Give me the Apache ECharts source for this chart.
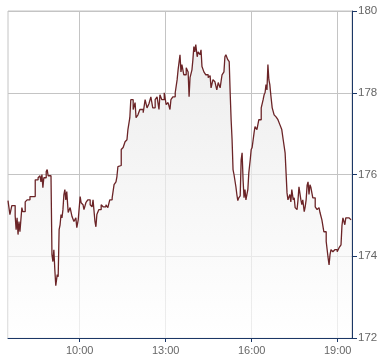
<!DOCTYPE html>
<html>
<head>
<meta charset="utf-8">
<script src="https://cdn.jsdelivr.net/npm/echarts@6/dist/echarts.min.js"></script>
<style>
html,body{margin:0;padding:0;background:#fff;}
#chart{width:390px;height:364px;}
</style>
</head>
<body>
<div id="chart"></div>
<script>
const times = ["7:30","7:34","7:38","7:45","7:47","7:49","7:51","7:53","7:55","7:59",
"8:01","8:06","8:10","8:16","8:27","8:33","8:37","8:39","8:41","8:43",
"8:45","8:50","8:52","8:54","9:00","9:02","9:04","9:06","9:08","9:10",
"9:13","9:15","9:17","9:19","9:21","9:23","9:25","9:27","9:29","9:31",
"9:33","9:36","9:40","9:44","9:48","9:52","9:54","9:57","10:01","10:03",
"10:07","10:09","10:13","10:17","10:22","10:26","10:28","10:32","10:34","10:36",
"10:40","10:45","10:49","10:55","10:59","11:03","11:08","11:12","11:16","11:18",
"11:20","11:24","11:27","11:31","11:35","11:39","11:41","11:45","11:47","11:52",
"11:56","11:58","12:02","12:06","12:13","12:17","12:21","12:25","12:29","12:33",
"12:38","12:42","12:46","12:48","12:52","12:57","13:01","13:05","13:09","13:11",
"13:15","13:20","13:24","13:26","13:30","13:32","13:34","13:38","13:43","13:47",
"13:49","13:51","13:55","13:57","13:59","14:01","14:03","14:06","14:08","14:12",
"14:14","14:16","14:20","14:24","14:29","14:33","14:35","14:39","14:43","14:47",
"14:50","14:54","14:58","15:02","15:04","15:06","15:10","15:13","15:15","15:17",
"15:19","15:21","15:23","15:27","15:29","15:31","15:33","15:36","15:38","15:40",
"15:42","15:44","15:46","15:48","15:50","15:52","15:54","15:57","15:59","16:01",
"16:05","16:07","16:11","16:15","16:20","16:24","16:26","16:28","16:30","16:32",
"16:34","16:36","16:38","16:40","16:43","16:47","16:51","16:55","16:59","17:03",
"17:06","17:10","17:12","17:14","17:16","17:20","17:22","17:24","17:27","17:29",
"17:31","17:35","17:37","17:39","17:43","17:45","17:47","17:50","17:52","17:54",
"17:56","17:58","18:00","18:02","18:04","18:06","18:08","18:13","18:17","18:21",
"18:23","18:27","18:31","18:36","18:38","18:40","18:42","18:44","18:46","18:50",
"18:54","18:59","19:03","19:07","19:09","19:11","19:15","19:17","19:24","19:28"];

const prices = [175.36,175.02,175.24,174.99,174.65,174.94,174.53,174.85,174.60,175.19,
175.09,175.33,175.38,175.46,175.87,175.92,175.97,175.82,176.00,175.68,
175.92,176.07,176.12,175.97,175.97,174.04,173.87,174.16,173.67,173.28,
173.55,173.50,174.65,174.77,175.02,174.94,175.14,175.51,175.63,175.38,
175.58,175.07,175.19,174.97,174.85,174.94,174.70,174.89,175.46,175.31,
175.26,175.14,175.31,175.38,175.26,175.21,175.38,174.85,174.72,175.02,
175.14,175.26,175.21,175.26,175.19,175.38,175.43,175.75,175.82,175.95,
176.19,176.22,176.61,176.66,176.80,176.85,177.10,177.39,177.83,177.59,
177.76,177.39,177.46,177.59,177.51,177.83,177.63,177.73,177.90,177.63,
177.83,177.90,177.59,177.95,177.83,178.00,177.71,177.76,177.59,177.83,
177.90,178.00,178.32,178.56,178.93,178.51,178.69,178.44,178.61,178.51,
177.90,178.37,178.56,178.81,179.13,179.00,179.18,178.88,179.00,178.93,
179.05,178.64,178.51,178.44,178.37,178.42,178.12,178.32,178.27,178.07,
178.25,178.12,178.44,178.51,178.88,178.93,178.81,178.76,178.00,177.34,
176.85,176.12,176.00,175.70,175.51,175.36,175.43,175.48,176.36,176.53,
175.87,175.43,175.63,175.38,175.51,175.63,176.04,176.36,176.61,176.66,
177.02,177.17,177.10,177.34,177.63,177.83,177.95,178.00,178.20,178.07,
178.69,178.32,178.20,177.95,177.63,177.46,177.41,177.34,177.22,177.10,
176.85,176.53,176.04,175.55,175.38,175.51,175.33,175.63,175.38,175.43,
175.19,175.14,175.38,175.70,175.38,175.26,175.38,175.09,175.21,175.38,
175.73,175.82,175.51,175.75,175.68,175.55,175.43,175.21,175.14,175.19,
175.07,174.89,174.60,174.36,174.16,173.96,173.79,174.04,174.16,174.11,
174.16,174.11,174.21,174.28,174.75,174.94,174.77,174.94,174.94,174.89];

const xTickLabels = ["10:00","13:00","16:00","19:00"];
const yTicks = [172,174,176,178,180];

function toMin(s){const p=s.split(":");return (+p[0])*60+(+p[1]);}
function fmt(m){const h=Math.floor(m/60),mm=m%60;return h+":"+(mm<10?"0":"")+mm;}

const data = times.map((t,i)=>[toMin(t),prices[i]]);
const xTickVals = xTickLabels.map(toMin);

const chart = echarts.init(document.getElementById('chart'));
const axisCol = '#1b3766';
const gridCol = '#c4c4c4';
chart.setOption({
  animation:false,
  backgroundColor:'#ffffff',
  textStyle:{fontFamily:'Liberation Sans, Arial, sans-serif'},
  grid:{left:8,right:38,top:11,bottom:26,show:true,borderColor:gridCol,borderWidth:1,backgroundColor:'transparent'},
  xAxis:{
    type:'value',min:toMin("7:30"),max:toMin("19:30"),
    axisLine:{show:true,lineStyle:{color:axisCol,width:1}},
    axisTick:{show:true,length:4,customValues:xTickVals,lineStyle:{color:axisCol}},
    axisLabel:{customValues:xTickVals,formatter:v=>fmt(v),color:'#666',fontSize:11,margin:7},
    splitLine:{show:true,lineStyle:{color:gridCol,width:1}}
  },
  yAxis:{
    type:'value',position:'right',min:yTicks[0],max:yTicks[yTicks.length-1],interval:2,
    axisLine:{show:true,lineStyle:{color:axisCol,width:1}},
    axisTick:{show:true,length:5,lineStyle:{color:axisCol}},
    axisLabel:{color:'#666',fontSize:11.5,margin:6},
    splitLine:{show:true,lineStyle:{color:gridCol,width:1}}
  },
  series:[{
    type:'line',step:'end',symbol:'none',data:data,
    lineStyle:{color:'#6b2427',width:1.3},
    areaStyle:{origin:'start',color:new echarts.graphic.LinearGradient(0,0,0,1,[
      {offset:0,color:'#e6e6e6'},{offset:1,color:'#ffffff'}])}
  }]
});
</script>
</body>
</html>
